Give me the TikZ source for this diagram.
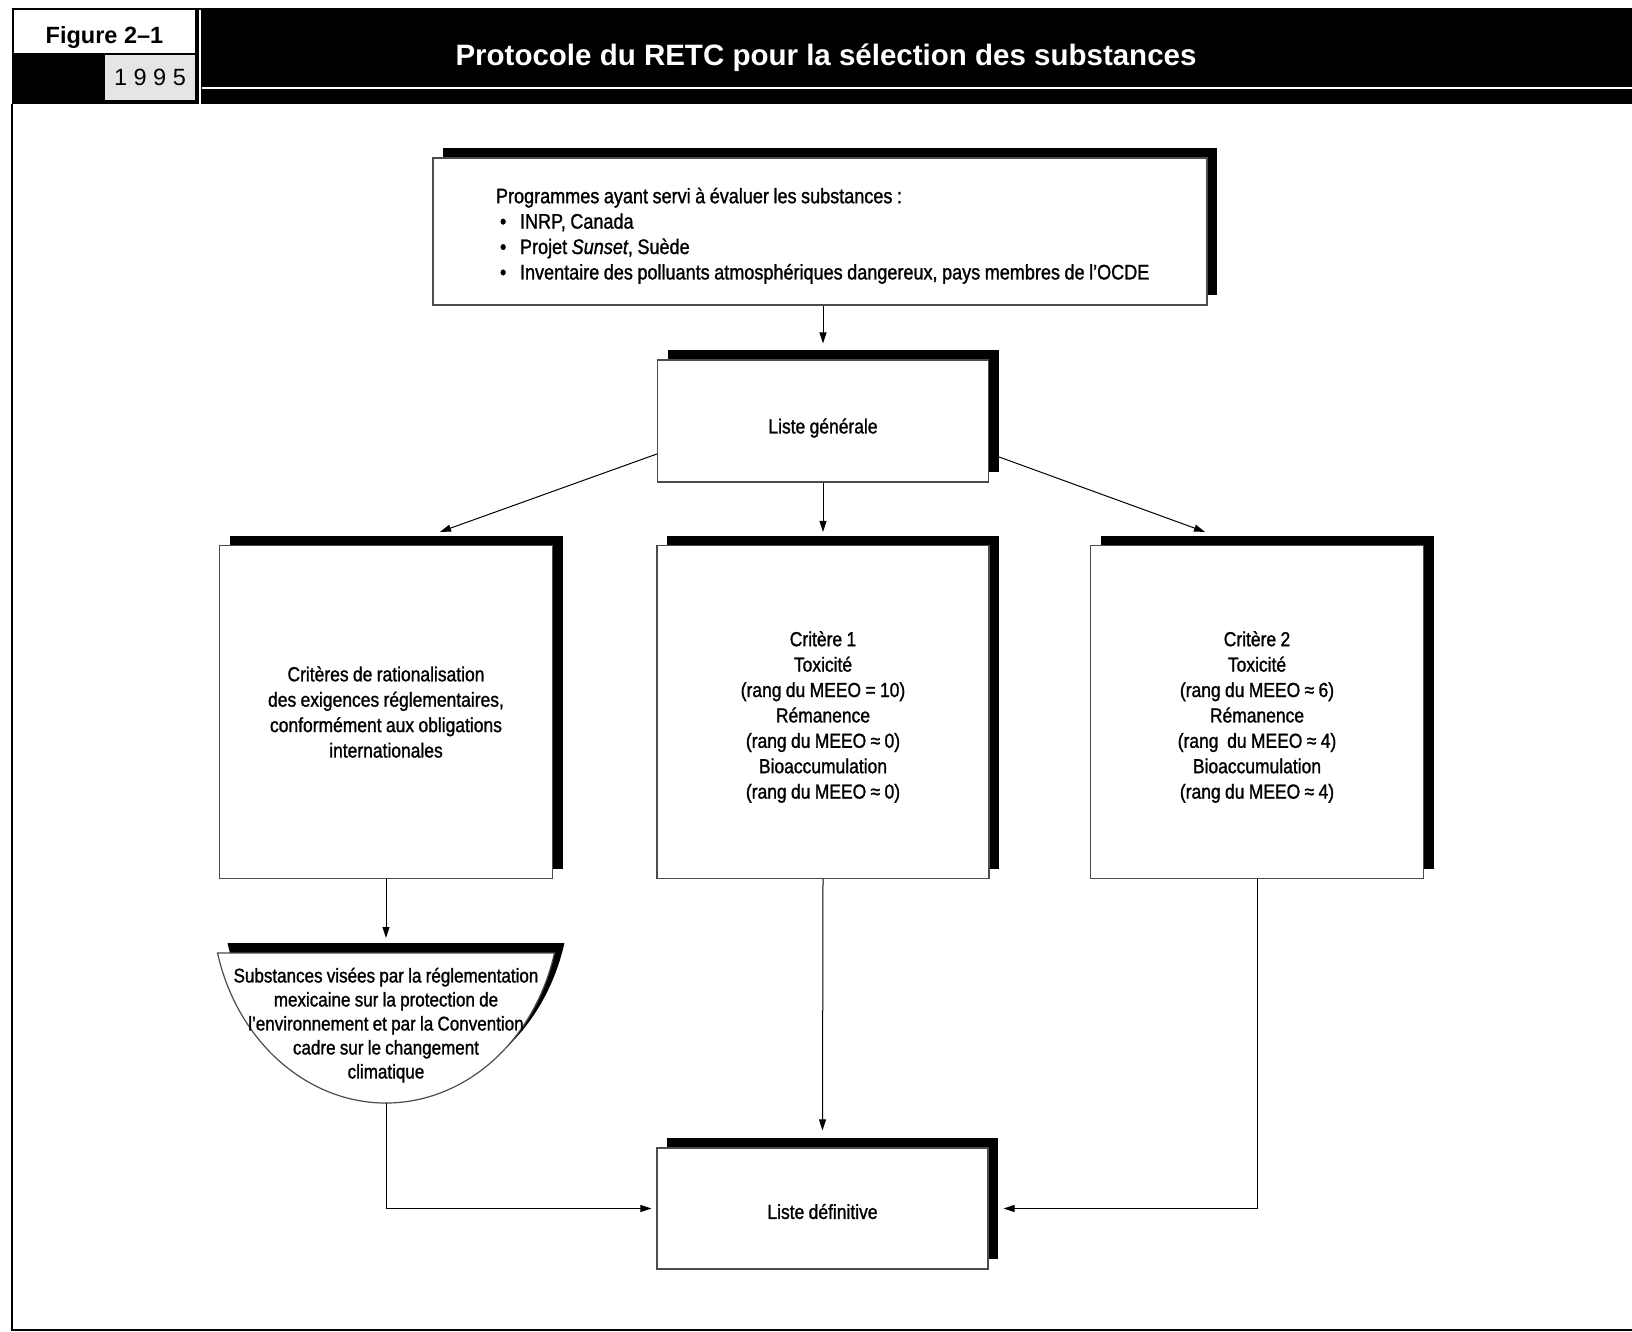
\documentclass[tikz,border=0pt]{standalone}
\usepackage{fontspec}
\setmainfont{Liberation Sans}[FakeStretch=0.86, WordSpace=0.9, FakeBold=1.2]
\newfontfamily\hdfont{Liberation Sans}
\usetikzlibrary{arrows.meta,shadows}

\newcommand\dnstrut[1]{\rule{0pt}{#1}}

\tikzset{
  x=1pt, y=-1pt,
  box/.style={draw=black!70, line width=1.2pt, fill=white, align=center, inner sep=0pt,
    font=\fontsize{20.3}{25.4}\selectfont,
    drop shadow={shadow xshift=10pt, shadow yshift=10pt, fill=black, opacity=1}},
  semitext/.style={align=center, inner sep=0pt, font=\fontsize{19.8}{24}\selectfont},
  conn/.style={draw=black, line width=1pt, -{Triangle[length=11pt,width=7pt]}},
}

\begin{document}
\begin{tikzpicture}
\useasboundingbox (0,0) rectangle (1632,1332);
% frame
\draw[black, line width=2pt] (12,104) -- (12,1330) -- (1632,1330);
% header
\fill[black] (12,8) rectangle (1632,104);
\node[fill=white, minimum width=181pt, minimum height=43pt, inner sep=0pt,
      text height=25pt, text depth=0pt,
      font=\hdfont\bfseries\fontsize{23.5}{26}\selectfont] (figlab) at (104.5,31.5) {Figure 2–1};
\node[fill=black!10, minimum width=90pt, minimum height=45pt, inner sep=0pt,
      font=\hdfont\fontsize{23.5}{26}\selectfont] (year) at (150,77.5) {1 9 9 5};
\fill[white] (198.5,10) rectangle (201,104);
\draw[white, line width=1.5pt] (202,88) -- (1632,88);
\node[anchor=base, text=white, inner sep=0pt,
      font=\hdfont\bfseries\fontsize{29.5}{34}\selectfont] (title) at (826,66)
  {Protocole du RETC pour la sélection des substances};

% boxes
\node[box, minimum width=774pt, minimum height=147pt, text width=648pt, align=flush left,
      font=\fontsize{21}{25.4}\selectfont] (top) at (820,231.5)
  {\dnstrut{24pt}Programmes ayant servi à évaluer les substances :\\
   \hspace*{4pt}\makebox[20pt][l]{•}INRP, Canada\\
   \hspace*{4pt}\makebox[20pt][l]{•}Projet \textit{Sunset}, Suède\\
   \mbox{\hspace*{4pt}\makebox[20pt][l]{•}Inventaire des polluants atmosphériques dangereux, pays membres de l’OCDE}};

\node[box, minimum width=331pt, minimum height=122pt] (gen) at (823,421) {\dnstrut{29pt}Liste générale};

\node[box, minimum width=333pt, minimum height=333pt] (lbox) at (386,712)
  {Critères de rationalisation\\des exigences réglementaires,\\conformément aux obligations\\internationales};
\node[box, minimum width=332pt, minimum height=333pt] (mbox) at (823,712)
  {\dnstrut{25pt}Critère 1\\Toxicité\\(rang du MEEO = 10)\\Rémanence\\(rang du MEEO ≈ 0)\\Bioaccumulation\\(rang du MEEO ≈ 0)};
\node[box, minimum width=333pt, minimum height=333pt] (rbox) at (1257,712)
  {\dnstrut{25pt}Critère 2\\Toxicité\\(rang du MEEO ≈ 6)\\Rémanence\\(rang\ \ du MEEO ≈ 4)\\Bioaccumulation\\(rang du MEEO ≈ 4)};

\node[box, minimum width=331pt, minimum height=121pt] (final) at (822.5,1208.5) {\dnstrut{21pt}Liste définitive};

% half-round shape
\fill[black] (227.5,943) arc[start angle=194.48, end angle=345.52, x radius=174pt, y radius=200pt] -- cycle;
\filldraw[fill=white, draw=black!70, line width=1.2pt] (217.5,953) arc[start angle=194.48, end angle=345.52, x radius=174pt, y radius=200pt] -- cycle;
\node[semitext, anchor=north, minimum width=337pt, minimum height=144pt] (semi) at (386,953)
  {Substances visées par la réglementation\\mexicaine sur la protection de\\l’environnement et par la Convention\\cadre sur le changement\\climatique};

% connectors
\draw[conn] (top.south -| gen.north) -- ([yshift=16pt]gen.north);
\draw[conn] ([yshift=-33pt]gen.west) -- ([xshift=54pt,yshift=13pt]lbox.north);
\draw[conn] (gen.south) -- ([yshift=13pt]mbox.north);
\draw[conn] ([xshift=10pt,yshift=-36pt]gen.east) -- ([xshift=-52pt,yshift=13pt]rbox.north);
\draw[conn] (lbox.south) -- ([yshift=15pt]semi.north);
\draw[conn] ([yshift=-6pt]semi.south) |- ([xshift=-5pt]final.west);
\draw[conn] (mbox.south) -- ([yshift=17pt]final.north);
\draw[conn] (rbox.south) |- ([xshift=15pt]final.east);
\end{tikzpicture}
\end{document}
